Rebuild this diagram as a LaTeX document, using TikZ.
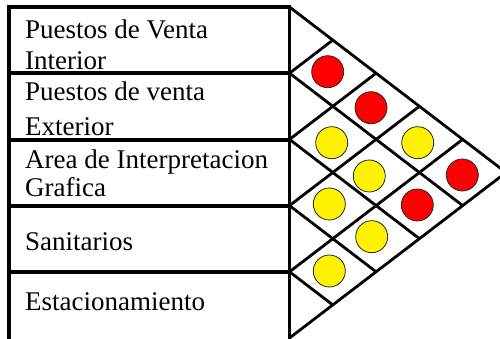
\documentclass[tikz,border=0pt]{standalone}
\usepackage{fontspec}
\setmainfont{Liberation Serif}
\usetikzlibrary{calc}
\begin{document}
\begin{tikzpicture}[x=1pt,y=-1pt,
  frame/.style={line width=3.2pt},
  grid/.style={line width=2.8pt},
  lbl/.style={anchor=base west,inner sep=0pt,font=\fontsize{27}{32}\selectfont},
  dot/.style={circle,draw=black!85,line width=0.8pt,minimum size=32pt,inner sep=0pt},
  hi/.style={dot,fill=red},
  mid/.style={dot,fill=yellow}]
\clip (0,0) rectangle (500,339);
\fill[white] (0,0) rectangle (500,339);
% left table
\draw[frame] (9,342) -- (9,7) -- (289.5,7) -- (289.5,342);
\foreach \yy in {73,140,206,272} \draw[frame] (9,\yy) -- (289.5,\yy);
% triangle lattice
\foreach \k in {0,...,5} \coordinate (L\k) at (289.5,{7+66.2*\k});
\coordinate (A) at (506,172.5);
\foreach \k in {0,...,4} \draw[grid] (L\k) -- ($(L5)!{(5-\k)/5}!(A)$);
\foreach \k in {1,...,5} \draw[grid] (L\k) -- ($(L0)!{\k/5}!(A)$);
% labels
\node[lbl] (r1a) at (25,38.5) {Puestos de Venta};
\node[lbl] (r1b) at (25,70) {Interior};
\node[lbl] (r2a) at (25,101) {Puestos de venta};
\node[lbl] (r2b) at (25,135.5) {Exterior};
\node[lbl] (r3a) at (25,168.5) {Area de Interpretacion};
\node[lbl] (r3b) at (25,196) {Grafica};
\node[lbl] (r4) at (25,250.5) {Sanitarios};
\node[lbl] (r5) at (25,310) {Estacionamiento};
% relationship marks
\node[hi]  (c01) at (327.7,71.7) {};
\node[hi]  (c02) at (371,107.7) {};
\node[mid] (c12) at (331.7,142.7) {};
\node[mid] (c03) at (417.7,142.7) {};
\node[hi]  (c04) at (462.3,175) {};
\node[mid] (c13) at (369.3,176) {};
\node[mid] (c23) at (329.3,204) {};
\node[hi]  (c14) at (417.3,205) {};
\node[mid] (c24) at (371.7,236.7) {};
\node[mid] (c34) at (329.3,271) {};
\end{tikzpicture}
\end{document}
